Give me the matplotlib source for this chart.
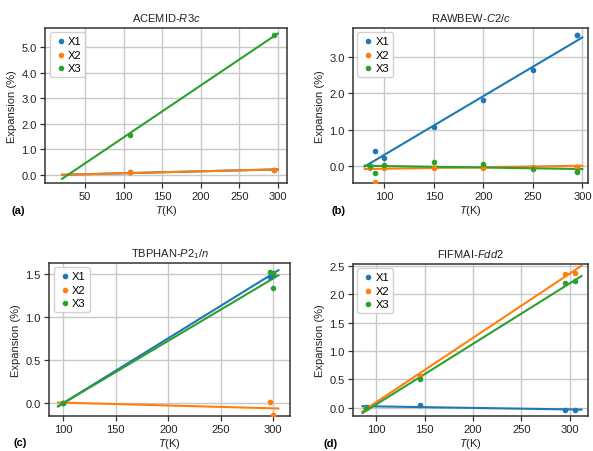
import numpy as np
import matplotlib
matplotlib.use("Agg")
import matplotlib.pyplot as plt
from matplotlib.ticker import FormatStrFormatter

# colours of the three principal axes
col_x1 = "#1f77b4"
col_x2 = "#ff7f0e"
col_x3 = "#2ca02c"

# (a) ACEMID
a_T = [108, 295]
a_x1 = [0.1, 0.2]
a_x2 = [0.1, 0.2]
a_x3 = [1.57, 5.45]
a_fit_T = [20, 300]
a_fit_x1 = [0.01, 0.22]
a_fit_x2 = [0.01, 0.22]
a_fit_x3 = [-0.15, 5.52]

# (b) RAWBEW
b_T = [85, 90, 100, 150, 200, 250, 295, 295]
b_x1 = [0.0, 0.42, 0.23, 1.07, 1.82, 2.63, 3.58, 3.58]
b_x2 = [-0.05, -0.42, -0.05, -0.04, -0.03, -0.02, -0.02, -0.02]
b_x3 = [0.0, -0.17, 0.05, 0.13, 0.06, -0.06, -0.12, -0.15]
b_fit_T = [80, 300]
b_fit_x1 = [0.0, 3.52]
b_fit_x2 = [-0.07, 0.02]
b_fit_x3 = [0.02, -0.07]

# (c) TBPHAN
c_T = [100, 297, 300]
c_x1 = [0.0, 1.47, 1.50]
c_x2 = [0.0, 0.01, -0.14]
c_x3 = [0.0, 1.53, 1.34]
c_x3_extra_T = [300]
c_x3_extra = [1.52]
c_fit_T = [95, 305]
c_fit_x1 = [-0.04, 1.55]
c_fit_x2 = [0.005, -0.065]
c_fit_x3 = [-0.04, 1.49]

# (d) FIFMAI
d_T = [90, 145, 295, 305]
d_x1 = [0.02, 0.05, -0.03, -0.03]
d_x2 = [0.0, 0.56, 2.35, 2.38]
d_x3 = [0.0, 0.50, 2.19, 2.23]
d_fit_T = [86, 312]
d_fit_x1 = [0.03, -0.03]
d_fit_x2 = [-0.06, 2.50]
d_fit_x3 = [-0.09, 2.32]

titles = ["ACEMID-$R3c$", "RAWBEW-$C2/c$", "TBPHAN-$P2_1/n$", "FIFMAI-$Fdd2$"]
letters = ["(a)", "(b)", "(c)", "(d)"]

plt.rcParams["font.family"] = ["Liberation Sans", "DejaVu Sans"]
plt.rcParams["mathtext.fontset"] = "custom"
plt.rcParams["mathtext.it"] = "Liberation Sans:italic"
plt.rcParams["mathtext.rm"] = "Liberation Sans"
plt.rcParams["font.size"] = 8

W, H = 593, 452
fig = plt.figure(figsize=(W / 100, H / 100), dpi=100)
boxes = [
    [0.076, 0.593, 0.408, 0.343],
    [0.595, 0.593, 0.397, 0.343],
    [0.083, 0.0774, 0.406, 0.3385],
    [0.595, 0.0774, 0.397, 0.3362],
]
letter_pos = [(12, 211), (332, 211), (14, 443), (323, 444)]
axes = [fig.add_axes(b) for b in boxes]

panels = [
    (a_T, a_x1, a_x2, a_x3, a_fit_T, a_fit_x1, a_fit_x2, a_fit_x3),
    (b_T, b_x1, b_x2, b_x3, b_fit_T, b_fit_x1, b_fit_x2, b_fit_x3),
    (c_T, c_x1, c_x2, c_x3, c_fit_T, c_fit_x1, c_fit_x2, c_fit_x3),
    (d_T, d_x1, d_x2, d_x3, d_fit_T, d_fit_x1, d_fit_x2, d_fit_x3),
]
xlims = [(-2, 312), (68, 306), (86.6, 316), (76, 319)]
ylims = [(-0.31, 5.74), (-0.45, 3.78), (-0.153, 1.634), (-0.143, 2.53)]
yticks = [np.arange(0, 5.1, 1.0), np.arange(0, 3.1, 1.0),
          np.arange(0, 1.6, 0.5), np.arange(0, 2.6, 0.5)]
xticks = [np.arange(50, 301, 50), np.arange(100, 301, 50),
          np.arange(100, 301, 50), np.arange(100, 301, 50)]

for i, ax in enumerate(axes):
    T, x1, x2, x3, fT, f1, f2, f3 = panels[i]
    ax.grid(True, color="#c8c8c8", lw=1.0, zorder=0)
    ax.set_axisbelow(True)
    ax.scatter(T, x1, s=9, color=col_x1, label="X1", zorder=3)
    ax.scatter(T, x2, s=9, color=col_x2, label="X2", zorder=3)
    ax.scatter(T, x3, s=9, color=col_x3, label="X3", zorder=3)
    if i == 2:
        ax.scatter(c_x3_extra_T, c_x3_extra, s=9, color=col_x3, zorder=3)
    ax.plot(fT, f1, color=col_x1, lw=1.5, zorder=2)
    ax.plot(fT, f2, color=col_x2, lw=1.5, zorder=2)
    ax.plot(fT, f3, color=col_x3, lw=1.5, zorder=2)
    ax.set_xlim(*xlims[i])
    ax.set_ylim(*ylims[i])
    ax.set_xticks(xticks[i])
    ax.set_yticks(yticks[i])
    ax.yaxis.set_major_formatter(FormatStrFormatter("%.1f"))
    for sp in ax.spines.values():
        sp.set_color("#333333")
        sp.set_linewidth(1.1)
    ax.tick_params(length=3.5, width=0.9, color="#333333", labelsize=8, pad=2.5,
                   labelcolor="#222222")
    ax.set_title(titles[i], fontsize=8, pad=5, color="#222222")
    ax.set_xlabel("$T$(K)", fontsize=8, labelpad=1, color="#222222")
    ax.set_ylabel("Expansion (%)", fontsize=8, labelpad=3, color="#222222")
    ax.legend(loc="upper left", fontsize=8, handletextpad=0.0, borderpad=0.35,
              labelspacing=0.3, handlelength=1.3, scatterpoints=1,
              borderaxespad=0.4, frameon=True, framealpha=0.9)
    lx, ly = letter_pos[i]
    fig.text(lx / W, 1 - ly / H, letters[i], fontsize=8, fontweight="bold",
             ha="left", va="center")

fig.savefig("out.png", dpi=100)
